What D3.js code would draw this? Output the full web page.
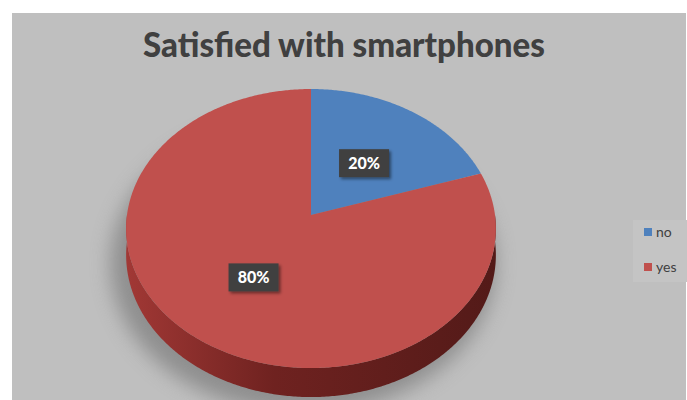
<!DOCTYPE html>
<html>
<head>
<meta charset="utf-8">
<script src="https://cdn.jsdelivr.net/npm/d3@7"></script>
<style>
  html, body { margin: 0; padding: 0; background: #ffffff; }
  svg { display: block; }
</style>
</head>
<body>
<svg id="chart" width="687" height="400"></svg>
<script>
// Survey answers
const categories = ["no", "yes"];
const values = [20, 80];
const labels = ["20%", "80%"];
const colors = ["#4f81bd", "#c0504d"];
const titleText = "Satisfied with smartphones";

const W = 687, H = 400;
const svg = d3.select("#chart");
const defs = svg.append("defs");

// panel background
svg.append("rect").attr("x", 12).attr("y", 13).attr("width", W - 13).attr("height", H - 13)
  .attr("fill", "#bfbfbf");

// title
svg.append("text")
  .attr("x", 344).attr("y", 57)
  .attr("text-anchor", "middle")
  .attr("font-family", "Lato, 'Open Sans', sans-serif")
  .attr("font-weight", 900)
  .attr("font-size", 35)
  .attr("textLength", 402)
  .attr("lengthAdjust", "spacingAndGlyphs")
  .attr("fill", "#404040")
  .text(titleText);

// 3D pie projection: a disc seen from above with mild perspective
const cx = 311, cy = 215, A = 184, B = 138.2, k = 0.097, depth = 26.2;
function proj(theta, f, dz) {
  const u = f * Math.sin(theta), v = f * Math.cos(theta);
  const s = 1 / (1 + k * v);
  return [cx + A * u * s, cy - B * v * s + dz * s];
}
function rim(a0, a1, f, dz) {
  const n = Math.max(2, Math.ceil(Math.abs(a1 - a0) / 0.01));
  return d3.range(n + 1).map(i => proj(a0 + (a1 - a0) * i / n, f, dz));
}
const line = d3.line();

const pie = d3.pie().sort(null).value(d => d)(values);

// soft shadow beneath the disc
const blur = defs.append("filter").attr("id", "shadowBlur")
  .attr("x", "-30%").attr("y", "-30%").attr("width", "160%").attr("height", "160%");
blur.append("feGaussianBlur").attr("stdDeviation", 10);
svg.append("path")
  .attr("d", line(rim(0, 2 * Math.PI, 1.04, depth + 8)) + "Z")
  .attr("transform", "translate(-8,0)")
  .attr("fill", "#6e6e6e")
  .attr("opacity", 0.6)
  .attr("filter", "url(#shadowBlur)");

// side wall gradients per slice: same hue, shaded darker toward the right
const sideGrad = colors.map((c, i) => {
  const g = defs.append("linearGradient").attr("id", "side" + i)
    .attr("gradientUnits", "userSpaceOnUse")
    .attr("x1", cx - A).attr("x2", cx + A).attr("y1", 0).attr("y2", 0);
  const h = d3.hsl(c);
  const shade = (l, s) => d3.hsl(h.h, Math.min(1, h.s * s), l).formatHex();
  g.append("stop").attr("offset", "0%").attr("stop-color", shade(0.42, 1.05));
  g.append("stop").attr("offset", "40%").attr("stop-color", shade(0.28, 1.15));
  g.append("stop").attr("offset", "100%").attr("stop-color", shade(0.21, 1.15));
  return "url(#side" + i + ")";
});

// visible side wall: front half of the rim
const frontA = Math.PI / 2, frontB = 3 * Math.PI / 2;
pie.forEach((p, i) => {
  const a0 = Math.max(p.startAngle, frontA), a1 = Math.min(p.endAngle, frontB);
  if (a1 <= a0) return;
  const top = rim(a0, a1, 1, 0);
  const bot = rim(a0, a1, 1, depth).reverse();
  svg.append("path")
    .attr("d", line(top.concat(bot)) + "Z")
    .attr("fill", sideGrad[i]);
});

// top faces
pie.forEach((p, i) => {
  const pts = [proj(0, 0, 0)].concat(rim(p.startAngle, p.endAngle, 1, 0));
  svg.append("path")
    .attr("d", line(pts) + "Z")
    .attr("fill", colors[i]);
});

// data labels in dark boxes
const boxShadow = defs.append("filter").attr("id", "boxShadow")
  .attr("x", "-30%").attr("y", "-30%").attr("width", "170%").attr("height", "170%");
boxShadow.append("feDropShadow").attr("dx", 2).attr("dy", 2).attr("stdDeviation", 1.8)
  .attr("flood-color", "#000").attr("flood-opacity", 0.45);

pie.forEach((p, i) => {
  const mid = (p.startAngle + p.endAngle) / 2;
  const [lx, ly] = proj(mid, 0.51, 0);
  const g = svg.append("g").attr("transform", `translate(${lx},${ly + 3})`);
  g.append("rect").attr("x", -25).attr("y", -14).attr("width", 50).attr("height", 28)
    .attr("fill", "#404040").attr("filter", "url(#boxShadow)");
  g.append("text")
    .attr("text-anchor", "middle").attr("dy", "0.36em")
    .attr("font-family", "Lato, 'Open Sans', sans-serif")
    .attr("font-weight", 900).attr("font-size", 16)
    .attr("fill", "#ffffff")
    .text(labels[i]);
});

// legend
const legend = svg.append("g");
legend.append("rect").attr("x", 633).attr("y", 220).attr("width", 54).attr("height", 62)
  .attr("fill", "#c4c4c4");
const ly = d3.scalePoint().domain(categories).range([232, 267]);
categories.forEach((c, i) => {
  legend.append("rect").attr("x", 644).attr("y", ly(c) - 4).attr("width", 8).attr("height", 8)
    .attr("fill", colors[i]);
  legend.append("text").attr("x", 656).attr("y", ly(c)).attr("dy", "0.35em")
    .attr("font-family", "Lato, 'Open Sans', sans-serif").attr("font-size", 14)
    .attr("fill", "#404040").text(c);
});
</script>
</body>
</html>
